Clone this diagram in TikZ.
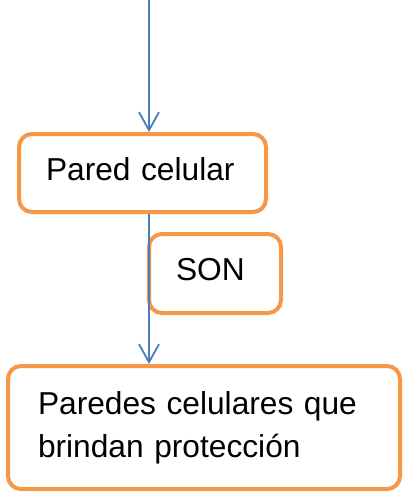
\documentclass[tikz,border=0pt]{standalone}
\usepackage{fontspec}
\setmainfont{Liberation Sans}
\usetikzlibrary{arrows.meta,positioning}
\definecolor{boxorange}{HTML}{F79646}
\definecolor{linkblue}{HTML}{4A7EBB}

\begin{document}
\begin{tikzpicture}[x=1pt, y=-1pt, every node/.style={font=\fontsize{31.7}{43}\selectfont},
  cbox/.style={draw=boxorange, line width=4pt, rounded corners=13pt, align=left, inner xsep=27pt, inner ysep=0pt},
  link/.style={draw=linkblue, line width=1.8pt, -{Straight Barb[length=18pt,width=20pt]}}]
\useasboundingbox (0,0) rectangle (402,498);
\node[cbox, text width=193pt, minimum height=78pt, text depth=8.7pt] (Pared) at (142.5,173) {Pared celular};
\node[cbox, text width=78pt, minimum height=79pt, text depth=8.7pt] (Son) at (215,273.5) {SON};
\node[cbox, text width=332pt, inner xsep=30pt, minimum height=123pt] (Paredes) at (204,427.5) {Paredes celulares que\\brindan protección};
\coordinate (Top) at (149,0);
\draw[link] (Top) -- (Top |- Pared.north);
\draw[link] (Top |- Pared.south) -- (Top |- Paredes.north);
\end{tikzpicture}
\end{document}
